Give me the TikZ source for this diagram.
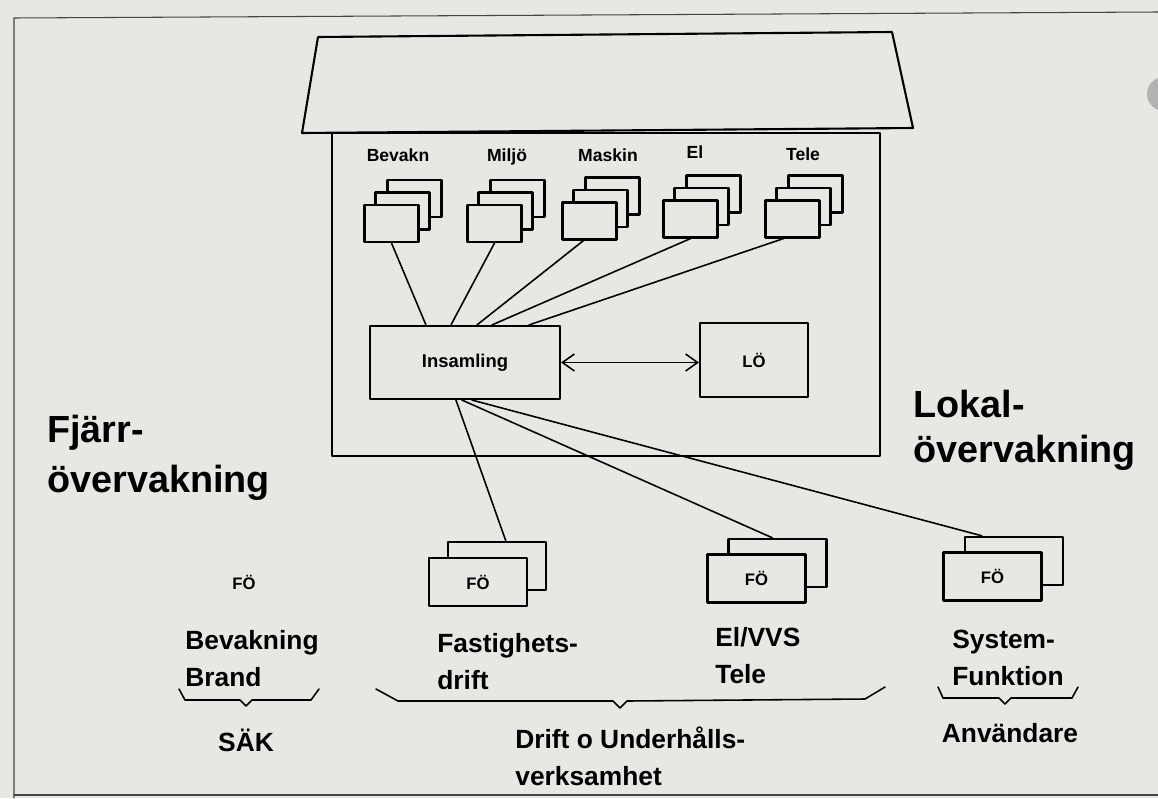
\documentclass[tikz,border=0pt]{standalone}
\usepackage{fontspec}
\setmainfont{Liberation Sans}
\usetikzlibrary{arrows.meta}
\definecolor{papper}{RGB}{231,231,228}
\tikzset{
  kort/.style={draw, fill=papper, line width=1.2pt, minimum width=1.08cm, minimum height=0.74cm, inner sep=0pt},
  fobox/.style={draw, fill=papper, line width=1.4pt, minimum width=1.96cm, minimum height=0.96cm, inner sep=0pt, font=\bfseries\fontsize{9.5}{11}\selectfont},
  rubrik/.style={anchor=base, inner sep=0pt, font=\bfseries\fontsize{10}{12}\selectfont},
  etikett/.style={anchor=base west, align=left, inner sep=0pt, font=\bfseries\fontsize{15}{20.5}\selectfont},
  stor/.style={anchor=base west, align=left, inner sep=0pt, font=\bfseries\fontsize{21.5}{27}\selectfont},
  ledning/.style={line width=0.9pt},
}
\begin{document}
\begin{tikzpicture}[x=0.02cm, y=-0.02cm, line cap=round, line join=round, >={Straight Barb[length=2.4mm,width=3.4mm]}]
\fill[papper] (0,0) rectangle (1158,798);
\useasboundingbox (0,0) rectangle (1158,798);
% sidans ram
\draw[gray!55!black, line width=0.6pt] (1158,12) -- (14,18) -- (14,798);
\draw[gray!55!black, line width=0.6pt] (14,795) -- (1158,795);
\fill[gray!60] (1164,94) circle[radius=0.34cm];
% skarm och central
\draw[line width=1.2pt] (318,37) -- (892,32) -- (913,128) -- (302,133) -- cycle;
\draw[line width=1.2pt] (332,133) rectangle (880,456);
% givare
\node[kort] (bevakn3) at (414.5,198.5) {};
\node[kort] (bevakn2) at (402.5,211) {};
\node[kort] (bevakn) at (391.5,223.5) {};
\node[kort] (miljo3) at (517.5,198.5) {};
\node[kort] (miljo2) at (505.5,211) {};
\node[kort] (miljo) at (494.5,223.5) {};
\node[kort] (maskin3) at (612.5,196) {};
\node[kort] (maskin2) at (600.5,208.5) {};
\node[kort] (maskin) at (589.5,221) {};
\node[kort] (el3) at (713.5,194) {};
\node[kort] (el2) at (701.5,206.5) {};
\node[kort] (el) at (690.5,219) {};
\node[kort] (tele3) at (815.5,194) {};
\node[kort] (tele2) at (803.5,206.5) {};
\node[kort] (tele) at (792.5,219) {};
\node[rubrik] (bevaknText) at (398,161) {Bevakn};
\node[rubrik] (miljoText) at (507,161) {Miljö};
\node[rubrik] (maskinText) at (608,161) {Maskin};
\node[rubrik] (elText) at (695,158) {El};
\node[rubrik] (teleText) at (803,160) {Tele};
\node[draw, line width=1.2pt, minimum width=3.8cm, minimum height=1.46cm, font=\bfseries\fontsize{10.5}{12}\selectfont] (insamling) at (465,362.5) {Insamling};
\node[draw, line width=1.2pt, minimum width=2.16cm, minimum height=1.48cm, font=\bfseries\fontsize{9.5}{11}\selectfont] (lo) at (754,360) {LÖ};
\draw[ledning] (bevakn.south) -- ([xshift=1.14cm]insamling.north west);
\draw[ledning] (miljo.south) -- ([xshift=1.64cm]insamling.north west);
\draw[ledning] ([xshift=-0.12cm]maskin.south) -- ([xshift=2.16cm]insamling.north west);
\draw[ledning] (el.south) -- ([xshift=2.46cm]insamling.north west);
\draw[ledning] ([xshift=-0.18cm]tele.south) -- ([xshift=3.2cm]insamling.north west);
\draw[ledning, <->] (insamling.east) -- (insamling.east -| lo.west);
% forvaltning
\node[fobox] (fastighet2) at (497,566) {};
\node[fobox] (fastighet) at (478,582) {FÖ};
\node[fobox] (elvvs2) at (777.5,563) {};
\node[fobox] (elvvs) at (756.5,578.5) {FÖ};
\node[fobox] (system2) at (1014,561) {};
\node[fobox] (system) at (992.5,576.5) {FÖ};
\node[font=\bfseries\fontsize{9.5}{11}\selectfont] (sakfo) at (244,582) {FÖ};
\draw[ledning] ([xshift=1.74cm]insamling.south west) -- ([xshift=1.18cm]fastighet2.north west);
\draw[ledning] ([xshift=1.86cm]insamling.south west) -- ([xshift=0.9cm]elvvs2.north west);
\draw[ledning] ([xshift=2.06cm]insamling.south west) -- ([xshift=0.36cm]system2.north west);
% texter
\node[stor] (fjarr) at (47,492) {Fjärr-\\[1.4pt]övervakning};
\node[stor] (lokal) at (913,462) {Lokal-\\[-1.4pt]övervakning};
\node[etikett] (bevakning) at (185,686) {Bevakning\\Brand};
\node[etikett] (fastighetText) at (437,689) {Fastighets-\\drift};
\node[etikett] (elvvsText) at (715,683) {El/VVS\\Tele};
\node[etikett] (systemText) at (952,685) {System-\\Funktion};
\node[etikett, anchor=base] (sak) at (246,751) {SÄK};
\node[etikett] (drift) at (515,785) {Drift o Underhålls-\\verksamhet};
\node[etikett, anchor=base] (anvandare) at (1010,742) {Användare};
% klamrar
\draw[ledning] (179,689) -- (185,700) -- (240,700) -- (246,706) -- (252,700) -- (311,700) -- (319,689);
\draw[ledning] (376,689) -- (398,701) -- (613,701) -- (620,708) -- (627,701) -- (865,699) -- (885,687);
\draw[ledning] (938,687) -- (943,698) -- (999,698) -- (1005,704) -- (1011,698) -- (1072,698) -- (1078,687);
\end{tikzpicture}
\end{document}
